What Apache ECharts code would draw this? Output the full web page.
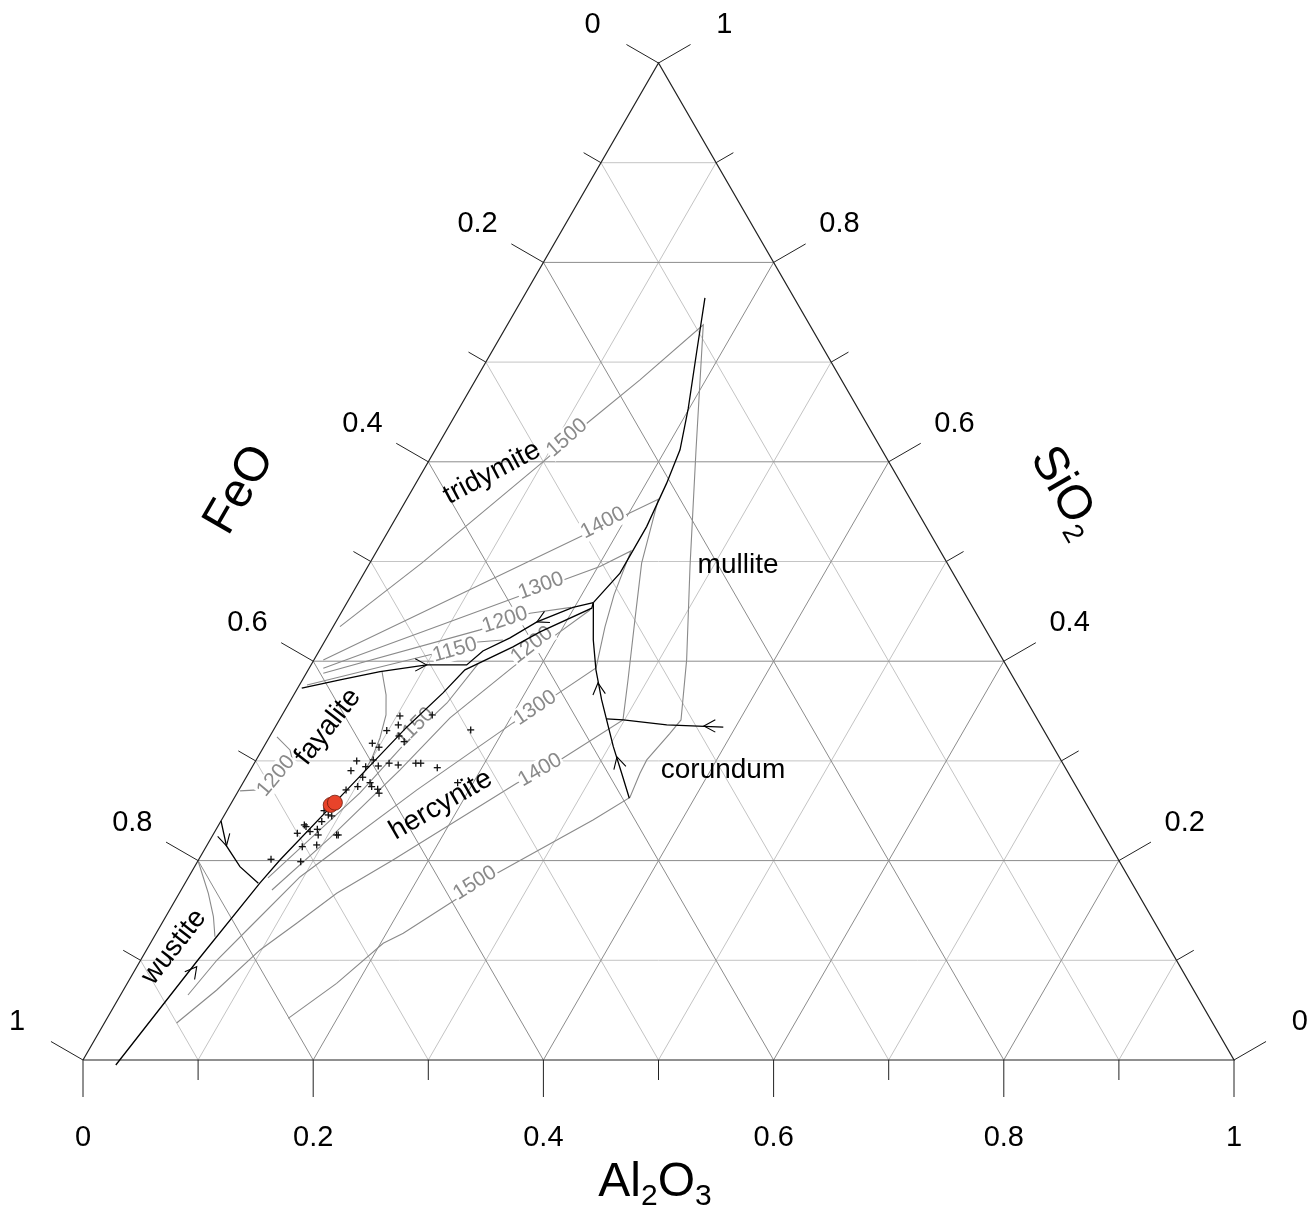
<!DOCTYPE html>
<html><head><meta charset="utf-8">
<script src="https://cdn.jsdelivr.net/npm/echarts@6.0.0/dist/echarts.min.js"></script>
<style>html,body{margin:0;padding:0;background:#fff}#c{width:1307px;height:1214px}</style>
</head><body><div id="c"></div>
<script>
// Compositions are [Al2O3, SiO2] fractions; FeO = 1 - Al2O3 - SiO2
const TICKS = [0,0.1,0.2,0.3,0.4,0.5,0.6,0.7,0.8,0.9,1];
const TICK_LABELS = ['0','0.2','0.4','0.6','0.8','1'];
const TICK_LABEL_VALUES = [0,0.2,0.4,0.6,0.8,1];

// black phase boundaries
const mainBoundary = [[0.031,-0.005],[0.0497,0.1003],[0.0650,0.1776],[0.0708,0.2006],[0.0939,0.2709],[0.1144,0.3341],[0.1287,0.3682],[0.1362,0.3913],[0.1664,0.4143],[0.1824,0.4294],[0.2154,0.4532],[0.2140,0.4588]];
const fayTridBoundary = [[0.0036,0.3729],[0.0327,0.3812],[0.0633,0.3896],[0.1004,0.3963],[0.1352,0.3963],[0.1423,0.4103],[0.1593,0.4234],[0.1747,0.4394],[0.1987,0.4540],[0.2140,0.4588]];
const wusFayBoundary = [[0.000,0.2398],[0.0173,0.2147],[0.0394,0.1939],[0.0637,0.1773]];
const silMulBoundary = [[0.2140,0.4588],[0.2224,0.4883],[0.2222,0.5350],[0.2178,0.5786],[0.2127,0.6120],[0.1991,0.6535],[0.1778,0.7109],[0.1581,0.7645]];
const hercBoundary = [[0.2140,0.4588],[0.2327,0.4213],[0.2500,0.3913],[0.2700,0.3612],[0.2892,0.3344],[0.3036,0.3143],[0.3242,0.2876],[0.3434,0.2625]];
const corMulBoundary = [[0.2838,0.3421],[0.2989,0.3411],[0.3391,0.3361],[0.3894,0.3338]];

// arrows on boundaries: [Al2O3, SiO2, direction in degrees]
const arrows = [[0.1004,0.3963,0],[0.1747,0.4394,206],[0.0173,0.2147,-76],[0.0520,0.0936,52],[0.2583,0.3782,96],[0.3119,0.3040,105],[0.3719,0.3351,180]];

// grey isotherms
const iso1500 = [[0.1574,0.0418],[0.1819,0.0769],[0.2023,0.1171],[0.2147,0.1271],[0.2402,0.1572],[0.2660,0.1873],[0.3227,0.2408],[0.3435,0.2633],[0.3401,0.2876],[0.3393,0.3010],[0.3461,0.3277],[0.3490,0.3411],[0.3238,0.4013],[0.2796,0.4956],[0.2266,0.6120],[0.1702,0.7374],[0.1428,0.6822],[0.1185,0.6387],[0.0998,0.6002],[0.0451,0.4983],[0.0059,0.4347]];
const iso1400 = [[0.0628,0.0371],[0.0811,0.0702],[0.0986,0.1104],[0.1171,0.1371],[0.1368,0.1672],[0.1690,0.2006],[0.2380,0.2776],[0.2639,0.3010],[0.2986,0.3411],[0.2829,0.3812],[0.2588,0.4414],[0.2362,0.4983],[0.2186,0.5625],[0.0081,0.4013]];
const iso1300 = [[0.0586,0.0652],[0.0663,0.1003],[0.0784,0.1334],[0.0967,0.1836],[0.1547,0.2709],[0.2045,0.3381],[0.2262,0.3642],[0.2491,0.3933],[0.2363,0.4344],[0.2281,0.4665],[0.2208,0.5106],[0.2017,0.4949],[0.1765,0.4815],[0.0123,0.3930]];
const iso1200Trid = [[0.0148,0.3879],[0.1292,0.4314],[0.1643,0.4481],[0.1970,0.4540]];
const iso1150Trid = [[0.0065,0.3762],[0.1004,0.4073],[0.1335,0.4193],[0.1542,0.4213]];
const iso1200Herc = [[0.0789,0.1705],[0.1032,0.2227],[0.1300,0.2909],[0.1473,0.3431],[0.1765,0.3943],[0.1962,0.4244],[0.2148,0.4514]];
const iso1150Herc = [[0.0694,0.1826],[0.1067,0.2679],[0.1226,0.3230],[0.1372,0.3581],[0.1446,0.3973]];
const iso1200Fay = [[0.0015,0.2699],[0.0166,0.2709],[0.0329,0.2990],[0.0243,0.3110],[0.0065,0.3240]];
const isoFay = [[0.0646,0.3902],[0.0802,0.3662],[0.0902,0.3461],[0.0965,0.3230],[0.0996,0.3030],[0.0999,0.2849]];
const isoWus = [[0.0006,0.1991],[0.0253,0.1672],[0.0414,0.1438],[0.0528,0.1237]];

// isotherm labels: [text, Al2O3, SiO2]
const isoLabels = [['1500',0.1085,0.6240],['1400',0.1824,0.5387],['1300',0.1601,0.4755],['1200',0.1459,0.4414],['1150',0.1175,0.4113],['1150',0.1214,0.3341],['1200',0.1819,0.4163],['1300',0.2162,0.3531],['1400',0.2516,0.2909],['1500',0.2518,0.1776],['1200',0.0252,0.2849]];
const isoLabelRot = [41,27,20,18,16,45,38,34,30,32,50];

// phase fields: [name, Al2O3, SiO2]
const phaseLabels = [['tridymite',0.0609,0.5889],['mullite',0.3208,0.4966],['corundum',0.4106,0.2909],['fayalite',0.0458,0.3341],['hercynite',0.1831,0.2558],['wustite',0.0224,0.1134]];
const phaseLabelRot = [28,0,0,52,30,52];

// analyses (crosses) [Al2O3, SiO2]
const samples = [[0.1028,0.3451],[0.1304,0.3461],[0.1059,0.3361],[0.0987,0.3304],[0.1120,0.3250],[0.1194,0.3193],[0.1713,0.3311],[0.0925,0.3177],[0.1003,0.3137],[0.0878,0.3000],[0.0985,0.2942],[0.1017,0.3010],[0.1091,0.2949],[0.1171,0.2977],[0.1259,0.2959],[0.1403,0.2977],[0.1446,0.2977],[0.1612,0.2932],[0.0877,0.2902],[0.1012,0.2836],[0.1016,0.2742],[0.1137,0.2742],[0.1103,0.2782],[0.1202,0.2716],[0.1234,0.2676],[0.0931,0.2709],[0.1864,0.2782],[0.0844,0.2501],[0.0902,0.2458],[0.0937,0.2448],[0.0879,0.2391],[0.0744,0.2358],[0.0767,0.2341],[0.0725,0.2274],[0.0827,0.2291],[0.0879,0.2314],[0.0915,0.2257],[0.0835,0.2140],[0.0952,0.2157],[0.1075,0.2257],[0.1089,0.2257],[0.0627,0.2013],[0.0897,0.1989]];
// highlighted analyses (red)
const highlight = [[0.0873,0.2558],[0.0898,0.2581]];

const S = Math.sqrt(3)/2;
function T(p){ return [p[0] + p[1]/2, p[1]*S]; }
const FONT = '"Liberation Sans", Arial, Helvetica, sans-serif';

function polySeries(lines, style, z){
  return {type:'custom', coordinateSystem:'cartesian2d', clip:false, silent:true, z:z,
    data: lines.map((_, i) => [0, 0, i]),
    renderItem: function(params, api){
      const pts = lines[params.dataIndex].map(p => api.coord(T(p)));
      return {type:'polyline', shape:{points:pts}, style:Object.assign({fill:null}, style)};
    }};
}

// grid lines
const gridEven = [], gridOdd = [];
TICKS.forEach((v, k) => {
  if (k === 0 || k === 10) return;
  const set = (k % 2 === 0) ? gridEven : gridOdd;
  set.push([[0, v], [1 - v, v]]);          // constant SiO2
  set.push([[v, 0], [v, 1 - v]]);          // constant Al2O3
  set.push([[1 - v, 0], [0, 1 - v]]);      // constant FeO
});
const frame = [[[0,0],[1,0],[0,1],[0,0]]];

// axes definitions for ticks
const axesDef = [
  {pt: v => [v, 0], dir: [0, 1], dist: 78},                 // Al2O3 bottom
  {pt: v => [0, 1 - v], dir: [-0.866, -0.5], dist: 76},     // FeO left
  {pt: v => [1 - v, v], dir: [0.866, -0.5], dist: 76}       // SiO2 right
];

function tickSeries(){
  const items = [];
  axesDef.forEach((a, ai) => TICKS.forEach((v, k) => items.push([ai, v, k])));
  return {type:'custom', coordinateSystem:'cartesian2d', clip:false, silent:true, z:3,
    data: items.map((_, i) => [0, 0, i]),
    renderItem: function(params, api){
      const it = items[params.dataIndex]; const a = axesDef[it[0]];
      const c = api.coord(T(a.pt(it[1])));
      const len = (it[2] % 2 === 0) ? 37 : 20;
      return {type:'line', shape:{x1:c[0], y1:c[1], x2:c[0] + a.dir[0]*len, y2:c[1] + a.dir[1]*len}, style:{stroke:'#222', lineWidth:1}};
    }};
}
function tickLabelSeries(){
  const items = [];
  axesDef.forEach((a, ai) => TICK_LABEL_VALUES.forEach((v, k) => items.push([ai, v, TICK_LABELS[k]])));
  return {type:'custom', coordinateSystem:'cartesian2d', clip:false, silent:true, z:4,
    data: items.map((_, i) => [0, 0, i]),
    renderItem: function(params, api){
      const it = items[params.dataIndex]; const a = axesDef[it[0]];
      const c = api.coord(T(a.pt(it[1])));
      return {type:'text', x:c[0] + a.dir[0]*a.dist, y:c[1] + a.dir[1]*a.dist,
        style:{text:it[2], fill:'#000', font:'29px ' + FONT, align:'center', verticalAlign:'middle'}};
    }};
}
function textSeries(list, rots, font, color, bg, z){
  return {type:'custom', coordinateSystem:'cartesian2d', clip:false, silent:true, z:z,
    data: list.map((_, i) => [0, 0, i]),
    renderItem: function(params, api){
      const it = list[params.dataIndex];
      const c = api.coord(T([it[1], it[2]]));
      const st = {text:it[0], fill:color, font:font, align:'center', verticalAlign:'middle'};
      if (bg) { st.backgroundColor = '#fff'; st.padding = [0, 1]; }
      return {type:'text', x:c[0], y:c[1], rotation:rots[params.dataIndex]*Math.PI/180, style:st};
    }};
}
function arrowSeries(){
  return {type:'custom', coordinateSystem:'cartesian2d', clip:false, silent:true, z:6,
    data: arrows.map((_, i) => [0, 0, i]),
    renderItem: function(params, api){
      const a = arrows[params.dataIndex];
      const c = api.coord(T(a));
      const ang = a[2]*Math.PI/180; const dx = Math.cos(ang), dy = -Math.sin(ang);
      const L = 13, h = 0.5;
      const back = [-dx, -dy];
      const rot = (t) => [back[0]*Math.cos(t) - back[1]*Math.sin(t), back[0]*Math.sin(t) + back[1]*Math.cos(t)];
      const r1 = rot(h), r2 = rot(-h);
      return {type:'polyline', shape:{points:[[c[0] + r1[0]*L, c[1] + r1[1]*L], c, [c[0] + r2[0]*L, c[1] + r2[1]*L]]}, style:{stroke:'#000', lineWidth:1.1, fill:null}};
    }};
}
function crossSeries(){
  return {type:'custom', coordinateSystem:'cartesian2d', clip:false, silent:true, z:7,
    data: samples.map((_, i) => [0, 0, i]),
    renderItem: function(params, api){
      const c = api.coord(T(samples[params.dataIndex])); const r = 3.5;
      return {type:'group', children:[
        {type:'line', shape:{x1:c[0]-r, y1:c[1], x2:c[0]+r, y2:c[1]}, style:{stroke:'#111', lineWidth:1.3}},
        {type:'line', shape:{x1:c[0], y1:c[1]-r, x2:c[0], y2:c[1]+r}, style:{stroke:'#111', lineWidth:1.3}}]};
    }};
}

const chart = echarts.init(document.getElementById('c'), null, {renderer:'canvas'});
const isoStyle = {stroke:'#8a8a8a', lineWidth:1.1};
const bStyle = {stroke:'#000', lineWidth:1.3};

const option = {
  animation:false,
  backgroundColor:'#fff',
  grid:{left:83, right:73, top:63, bottom:154},
  xAxis:{type:'value', min:0, max:1, show:false},
  yAxis:{type:'value', min:0, max:S, show:false},
  series:[
    polySeries(gridOdd, {stroke:'#c4c4c4', lineWidth:1}, 1),
    polySeries(gridEven, {stroke:'#8c8c8c', lineWidth:1}, 1),
    polySeries(frame, {stroke:'#222', lineWidth:1.2}, 2),
    tickSeries(),
    tickLabelSeries(),
    polySeries([iso1500, iso1400, iso1300, iso1200Trid, iso1150Trid, iso1200Herc, iso1150Herc, iso1200Fay, isoFay, isoWus], isoStyle, 3),
    textSeries(isoLabels, isoLabelRot, '21px ' + FONT, '#8a8a8a', true, 4),
    polySeries([mainBoundary, fayTridBoundary, wusFayBoundary, silMulBoundary, hercBoundary, corMulBoundary], bStyle, 5),
    arrowSeries(),
    crossSeries(),
    {type:'scatter', coordinateSystem:'cartesian2d', z:8, silent:true, clip:false,
      data: highlight.map(T), symbol:'circle', symbolSize:15,
      itemStyle:{color:'#e8432a', borderColor:'#6b1a0c', borderWidth:0.8, opacity:1}},
    textSeries(phaseLabels, phaseLabelRot, '28px ' + FONT, '#000', false, 9)
  ],
  graphic:[
    {type:'text', x:240, y:490, rotation:60*Math.PI/180, style:{text:'FeO', font:'48px ' + FONT, fill:'#000', align:'center', verticalAlign:'middle'}},
    {type:'text', x:1065, y:492, rotation:-60*Math.PI/180, style:{text:'{a|SiO}{s|2}', align:'center', verticalAlign:'middle',
      rich:{a:{fontSize:48, fontFamily:FONT, fill:'#000', lineHeight:58}, s:{fontSize:28, fontFamily:FONT, fill:'#000', lineHeight:36, verticalAlign:'bottom'}}}},
    {type:'text', x:655, y:1183, style:{text:'{a|Al}{s|2}{a|O}{s|3}', align:'center', verticalAlign:'middle',
      rich:{a:{fontSize:48, fontFamily:FONT, fill:'#000', lineHeight:58}, s:{fontSize:30, fontFamily:FONT, fill:'#000', lineHeight:36, verticalAlign:'bottom'}}}}
  ]
};
chart.setOption(option);
</script>
</body></html>
